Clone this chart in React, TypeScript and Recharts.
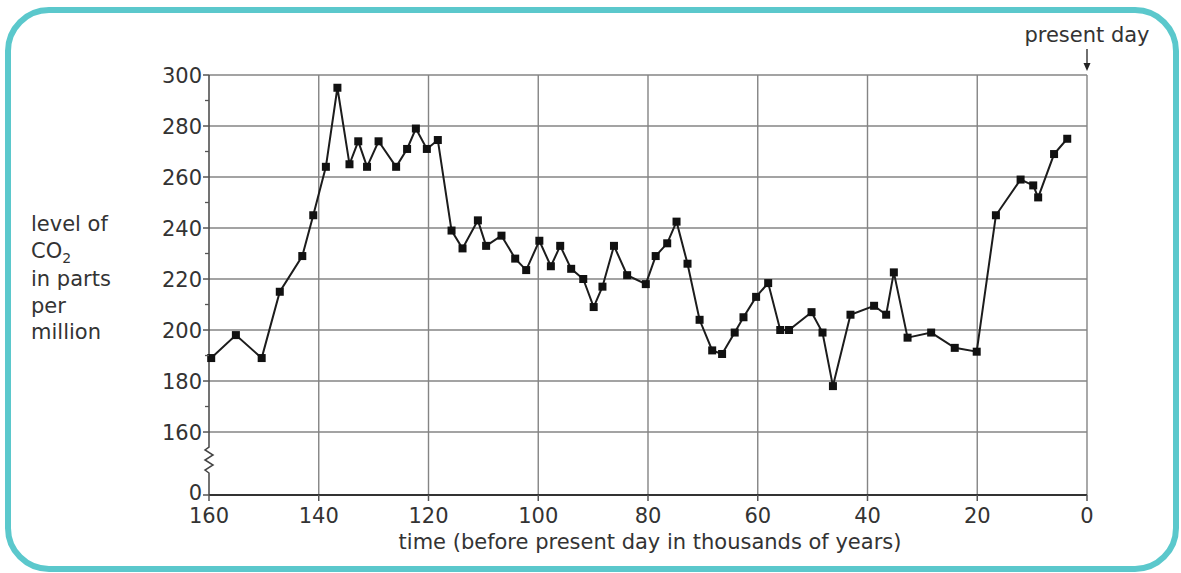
import * as React from 'react';
import { LineChart, Line, XAxis, YAxis, CartesianGrid, ReferenceLine } from 'recharts';

// time before present (thousands of years)
const times = [
  159.6, 155.1, 150.4, 147.1, 143, 141, 138.7, 136.6, 134.4, 132.8,
  131.2, 129.1, 125.9, 123.9, 122.3, 120.3, 118.3, 115.8, 113.8, 111,
  109.5, 106.7, 104.2, 102.2, 99.8, 97.7, 96, 94, 91.8, 89.9,
  88.3, 86.2, 83.8, 80.4, 78.6, 76.5, 74.8, 72.8, 70.6, 68.3,
  66.5, 64.2, 62.6, 60.3, 58.1, 55.9, 54.3, 50.2, 48.2, 46.3,
  43.1, 38.8, 36.6, 35.2, 32.7, 28.4, 24.1, 20.1, 16.6, 12.1,
  9.8, 8.9, 6, 3.6,
];

// CO2 level in parts per million
const co2 = [
  189, 198, 189, 215, 229, 245, 264, 295, 265, 274,
  264, 274, 264, 271, 279, 271, 274.5, 239, 232, 243,
  233, 237, 228, 223.5, 235, 225, 233, 224, 220, 209,
  217, 233, 221.5, 218, 229, 234, 242.5, 226, 204, 192,
  190.6, 199, 205, 213, 218.4, 200, 200, 207, 199, 178,
  206, 209.5, 206, 222.6, 197, 199, 193, 191.5, 245, 259,
  256.7, 252, 269, 275,
];

const xTicks = [0, 20, 40, 60, 80, 100, 120, 140, 160];
const yMajor = [160, 180, 200, 220, 240, 260, 280, 300];
const yMinor = [170, 190, 210, 230, 250, 270, 290];
const yLabelLines = ['level of', 'CO2', 'in parts', 'per', 'million'];

const W = 1181;
const H = 573;
const TOP = 75;
const BOTTOM = 495;
const Y_MIN = 135.3; // where the broken axis shows "0"
const Y_MAX = 300;
const PX = (BOTTOM - TOP) / (Y_MAX - Y_MIN);

const FONT = "'DejaVu Sans', sans-serif";
const TEXT = '#333';

const data = times.map((t, i) => ({ t, co2: co2[i] }));
const yTicks = [Y_MIN, ...yMajor, ...yMinor].sort((a, b) => a - b);

const YTick = (props: any) => {
  const { x, y, payload } = props;
  const v = payload.value;
  if (v === Y_MIN) {
    const gap = (160 - Y_MIN) * PX;
    const zz = [
      [0, 0], [0, -22], [-4, -25], [4, -30], [-4, -35], [4, -40], [-4, -45], [0, -48], [0, -gap],
    ];
    return (
      <g>
        <polyline
          points={zz.map((p) => `${x + p[0]},${y + p[1]}`).join(' ')}
          fill="none"
          stroke="#444"
          strokeWidth={1.5}
        />
        <line x1={x - 6} y1={y} x2={x} y2={y} stroke="#555" strokeWidth={1.5} />
        <text x={x - 7} y={y - 3} dy="0.36em" textAnchor="end" fill={TEXT} fontSize={21} fontFamily={FONT}>
          0
        </text>
      </g>
    );
  }
  if (yMinor.includes(v)) {
    return <line x1={x - 4} y1={y} x2={x} y2={y} stroke="#555" strokeWidth={1.3} />;
  }
  return (
    <g>
      <line x1={x - 6} y1={y} x2={x} y2={y} stroke="#555" strokeWidth={1.5} />
      <text x={x - 7} y={y} dy="0.36em" textAnchor="end" fill={TEXT} fontSize={21} fontFamily={FONT}>
        {v}
      </text>
    </g>
  );
};

const SquareDot = (props: any) => {
  const { cx, cy, index } = props;
  return <rect key={index} x={cx - 4} y={cy - 4} width={8} height={8} fill="#111" />;
};

export default function App() {
  return (
    <div style={{ position: 'fixed', left: 0, top: 0, width: W, height: H, background: '#fff', overflow: 'hidden' }}>
      <div
        style={{
          position: 'absolute',
          left: 5,
          top: 7,
          width: 1174,
          height: 565,
          boxSizing: 'border-box',
          border: '6px solid #5bc8cc',
          borderRadius: 44,
        }}
      />
      <div style={{ position: 'absolute', left: 0, top: 0 }}>
        <LineChart width={W} height={H} data={data} margin={{ top: TOP, right: 94, bottom: 38, left: 149 }}>
          <CartesianGrid
            stroke="#848484"
            strokeWidth={1.4}
            horizontalValues={yMajor}
            verticalValues={xTicks.filter((t) => t !== 160)}
          />
          <XAxis
            dataKey="t"
            type="number"
            domain={[0, 160]}
            reversed
            ticks={xTicks}
            interval={0}
            height={40}
            tickSize={6}
            tickMargin={7}
            axisLine={{ stroke: '#333', strokeWidth: 2 }}
            tickLine={{ stroke: '#555', strokeWidth: 1.5 }}
            tick={{ fill: TEXT, fontSize: 21, fontFamily: FONT }}
          />
          <YAxis
            type="number"
            domain={[Y_MIN, Y_MAX]}
            allowDataOverflow
            ticks={yTicks}
            interval={0}
            width={60}
            axisLine={false}
            tickLine={false}
            tickSize={0}
            tickMargin={0}
            tick={<YTick />}
          />
          <ReferenceLine
            segment={[{ x: 160, y: 160 }, { x: 160, y: 300 }]}
            stroke="#444"
            strokeWidth={1.5}
          />
          <Line
            type="linear"
            dataKey="co2"
            stroke="#1c1c1c"
            strokeWidth={2}
            dot={<SquareDot />}
            isAnimationActive={false}
          />
        </LineChart>
      </div>
      <div
        style={{
          position: 'absolute',
          left: 31,
          top: 211,
          fontFamily: FONT,
          fontSize: 21,
          lineHeight: '26.5px',
          color: TEXT,
        }}
      >
        {yLabelLines.map((l) =>
          l === 'CO2' ? (
            <div key={l}>
              CO<span style={{ fontSize: 14, position: 'relative', top: 5 }}>2</span>
            </div>
          ) : (
            <div key={l}>{l}</div>
          ),
        )}
      </div>
      <div
        style={{
          position: 'absolute',
          left: 350,
          top: 532,
          width: 600,
          textAlign: 'center',
          fontFamily: FONT,
          fontSize: 21,
          lineHeight: '21px',
          color: TEXT,
        }}
      >
        time (before present day in thousands of years)
      </div>
      <div
        style={{
          position: 'absolute',
          left: 987,
          top: 25,
          width: 200,
          textAlign: 'center',
          fontFamily: FONT,
          fontSize: 21,
          lineHeight: '21px',
          color: TEXT,
        }}
      >
        present day
      </div>
      <svg style={{ position: 'absolute', left: 0, top: 0 }} width={W} height={H} pointerEvents="none">
        <line x1={1087} y1={49} x2={1087} y2={64} stroke="#222" strokeWidth={1.3} />
        <polygon points="1083.5,63 1090.5,63 1087,71" fill="#222" />
      </svg>
    </div>
  );
}
